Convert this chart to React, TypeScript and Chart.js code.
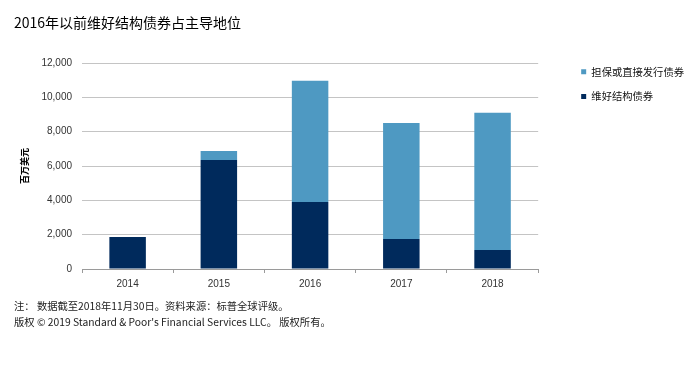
import React, { useEffect, useRef } from "react";
import { Chart, registerables } from "chart.js";

Chart.register(...registerables);

const titleText = "2016年以前维好结构债券占主导地位";
const categories = ["2014", "2015", "2016", "2017", "2018"];
const keepwellLabel = "维好结构债券";
const keepwellValues = [1870, 6350, 3900, 1750, 1100];
const directLabel = "担保或直接发行债券";
const directValues = [0, 530, 7070, 6750, 8000];
const yAxisTitle = "百万美元";
const yMin = 0;
const yMax = 12000;
const yStep = 2000;
const footnotes = [
  "注： 数据截至2018年11月30日。资料来源：标普全球评级。",
  "版权 © 2019 Standard & Poor's Financial Services LLC。 版权所有。",
];

const CJK = '"Noto Sans CJK SC", "Noto Sans", sans-serif';
const NUM = '"Liberation Sans", Arial, sans-serif';

export default function App() {
  const ref = useRef<HTMLCanvasElement | null>(null);

  useEffect(() => {
    if (!ref.current) return;
    const chart = new Chart(ref.current, {
      type: "bar",
      data: {
        labels: categories,
        datasets: [
          {
            label: keepwellLabel,
            data: keepwellValues,
            backgroundColor: "#002A5C",
            borderWidth: 0,
            barPercentage: 0.4,
            categoryPercentage: 1,
          },
          {
            label: directLabel,
            data: directValues,
            backgroundColor: "#4E99C2",
            borderWidth: 0,
            barPercentage: 0.4,
            categoryPercentage: 1,
          },
        ],
      },
      options: {
        animation: false,
        responsive: false,
        devicePixelRatio: 1,
        layout: { padding: { left: 14, right: -4, top: 0, bottom: 0 } },
        plugins: {
          tooltip: { enabled: false },
          title: {
            display: true,
            text: titleText,
            align: "start",
            color: "#000",
            font: { family: CJK, size: 14, weight: "normal", lineHeight: 1.2 },
            padding: { top: 14.6, bottom: 31.6 },
          },
          subtitle: {
            display: true,
            position: "bottom",
            text: footnotes,
            align: "start",
            color: "#222",
            font: { family: CJK, size: 10.3, weight: "normal", lineHeight: "16px" },
            padding: { top: 0, bottom: 38 },
          },
          legend: {
            display: true,
            position: "right",
            align: "start",
            reverse: true,
            maxWidth: 220,
            title: {
              display: true,
              text: " ",
              font: { size: 1, lineHeight: 1 },
              padding: { top: 51, bottom: 0 },
            },
            labels: {
              boxWidth: 5,
              boxHeight: 5,
              padding: 14.5,
              color: "#111",
              font: { family: CJK, size: 10.3 },
            },
          },
        },
        scales: {
          x: {
            stacked: true,
            grid: {
              display: true,
              drawOnChartArea: false,
              drawTicks: true,
              tickLength: 4,
              color: "#9a9a9a",
              offset: true,
            },
            border: { display: true, color: "#9a9a9a" },
            ticks: { color: "#333", font: { family: NUM, size: 10 }, padding: 5 },
            afterFit: (s: any) => {
              s.height = 29;
            },
          },
          y: {
            stacked: true,
            min: yMin,
            max: yMax,
            grid: { color: "#c4c4c4", drawTicks: false },
            border: { display: false },
            ticks: {
              stepSize: yStep,
              padding: 10,
              color: "#333",
              font: { family: NUM, size: 10 },
              callback: (v: any) => Number(v).toLocaleString("en-US"),
            },
            title: {
              display: true,
              text: yAxisTitle,
              color: "#000",
              font: { family: CJK, size: 9, weight: "bold", lineHeight: 1.2 },
              padding: { top: 5, bottom: 0 },
            },
            afterFit: (s: any) => {
              s.width = 68;
            },
          },
          yR: {
            type: "linear",
            position: "right",
            display: true,
            grid: { display: false },
            border: { display: false },
            ticks: { display: false },
            afterFit: (s: any) => {
              s.width = 28.5;
            },
          },
        },
      },
    });
    return () => chart.destroy();
  }, []);

  return (
    <div style={{ position: "fixed", left: 0, top: 0, width: 690, height: 368, background: "#fff" }}>
      <canvas ref={ref} width={690} height={368} style={{ width: 690, height: 368, display: "block" }} />
    </div>
  );
}
